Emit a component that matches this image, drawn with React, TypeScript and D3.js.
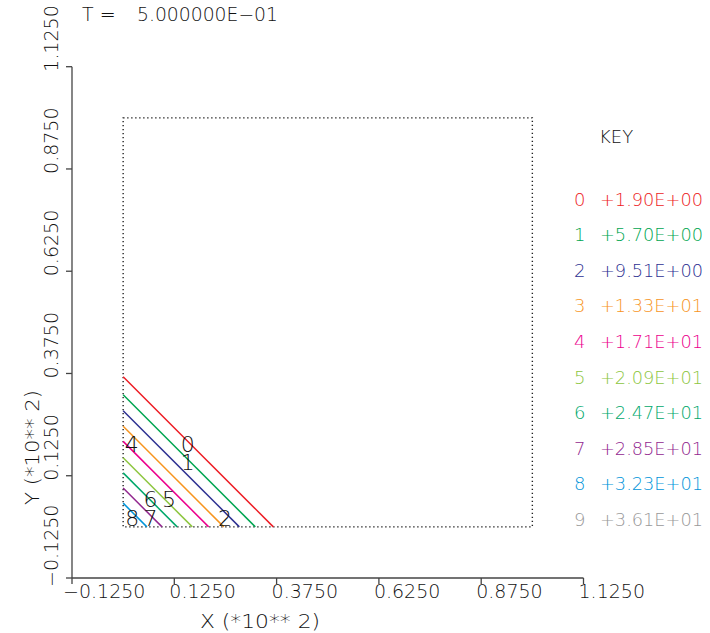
import React from "react";
import { scaleLinear } from "d3";

// contour levels shown in the key
const levelIds = ["0", "1", "2", "3", "4", "5", "6", "7", "8", "9"];
const levelValues = [
  "+1.90E+00",
  "+5.70E+00",
  "+9.51E+00",
  "+1.33E+01",
  "+1.71E+01",
  "+2.09E+01",
  "+2.47E+01",
  "+2.85E+01",
  "+3.23E+01",
  "+3.61E+01",
];
const levelColors = [
  "#ed1c24",
  "#00a651",
  "#2e3192",
  "#f7941d",
  "#ec008c",
  "#8dc63f",
  "#00a86b",
  "#92278f",
  "#0095da",
  "#999999",
];

// each contour is a straight line x + y = c (units of 10**2)
const contourSums = [0.367, 0.323, 0.284, 0.246, 0.209, 0.169, 0.132, 0.095, 0.058];

// in-plot contour labels (data coords)
const labelIds = ["0", "1", "4", "6", "5", "8", "7", "2"];
const labelX = [0.158, 0.158, 0.021, 0.067, 0.112, 0.022, 0.067, 0.249];
const labelY = [0.203, 0.159, 0.203, 0.068, 0.068, 0.021, 0.022, 0.021];

const axisTicks = [-0.125, 0.125, 0.375, 0.625, 0.875, 1.125];
const title = "T =";
const titleValue = "5.000000E\u221201";
const xTitle = "X (*10** 2)";
const yTitle = "Y (*10** 2)";

const font = "'DejaVu Sans', sans-serif";
const ink = "#111";

const fmt = (v: number) => (v < 0 ? "\u2212" : "") + Math.abs(v).toFixed(4);

export default function App() {
  const x = scaleLinear().domain([-0.125, 1.125]).range([72, 583.5]);
  const y = scaleLinear().domain([-0.125, 1.125]).range([578, 66.7]);

  return (
    <svg
      width={710}
      height={633}
      viewBox="0 0 710 633"
      style={{ position: "absolute", left: 0, top: 0, background: "#fff" }}
      fontFamily={font}
      fontWeight={200}
    >
      <text x={82} y={21} fontSize={19} fill={ink}>{title}</text>
      <text x={137} y={21} fontSize={19} fill={ink} textLength={141} lengthAdjust="spacingAndGlyphs">
        {titleValue}
      </text>

      {/* axes */}
      <g stroke="#444" strokeWidth={1.3}>
        <line x1={x(-0.125)} x2={x(1.125)} y1={y(-0.125)} y2={y(-0.125)} />
        <line x1={x(-0.125)} x2={x(-0.125)} y1={y(-0.125)} y2={y(1.125)} />
        {axisTicks.map((t) => (
          <line key={"xt" + t} x1={x(t)} x2={x(t)} y1={y(-0.125)} y2={y(-0.125) + 6} />
        ))}
        {axisTicks.map((t) => (
          <line key={"yt" + t} x1={x(-0.125) - 6} x2={x(-0.125)} y1={y(t)} y2={y(t)} />
        ))}
      </g>
      {axisTicks.map((t) => (
        <text key={"xl" + t} x={x(t) - (t < 0 ? 9 : 5)} y={598} fontSize={19} fill={ink}>
          {fmt(t)}
        </text>
      ))}
      {axisTicks.map((t) => (
        <text
          key={"yl" + t}
          transform={`translate(58,${y(t) + (t < 0 ? 9 : 5)}) rotate(-90)`}
          fontSize={19}
          fill={ink}
        >
          {fmt(t)}
        </text>
      ))}
      <text x={200} y={628} fontSize={20} fill={ink} textLength={120} lengthAdjust="spacingAndGlyphs">
        {xTitle}
      </text>
      <text
        transform={`translate(39,505) rotate(-90)`}
        fontSize={20}
        fill={ink}
        textLength={115}
        lengthAdjust="spacingAndGlyphs"
      >
        {yTitle}
      </text>

      {/* dotted frame of the domain */}
      <rect
        x={x(0)}
        y={y(1)}
        width={x(1) - x(0)}
        height={y(0) - y(1)}
        fill="none"
        stroke="#222"
        strokeWidth={1.4}
        strokeDasharray="1.4 2.6"
      />

      {/* contours */}
      {contourSums.map((c, i) => (
        <line
          key={"c" + i}
          x1={x(0)}
          y1={y(c)}
          x2={x(c)}
          y2={y(0)}
          stroke={levelColors[i]}
          strokeWidth={1.5}
        />
      ))}
      {labelIds.map((id, i) => (
        <text
          key={"lab" + i}
          x={x(labelX[i])}
          y={y(labelY[i]) + 8}
          fontSize={22}
          fill={ink}
          textAnchor="middle"
        >
          {id}
        </text>
      ))}

      {/* key */}
      <text x={599} y={143} fontSize={18} fill={ink}>KEY</text>
      {levelIds.map((id, i) => (
        <g key={"k" + i} fill={levelColors[i]} fontSize={18}>
          <text x={574} y={205.5 + i * 35.6}>{id}</text>
          <text x={600} y={205.5 + i * 35.6} textLength={103} lengthAdjust="spacingAndGlyphs">
            {levelValues[i]}
          </text>
        </g>
      ))}
    </svg>
  );
}
